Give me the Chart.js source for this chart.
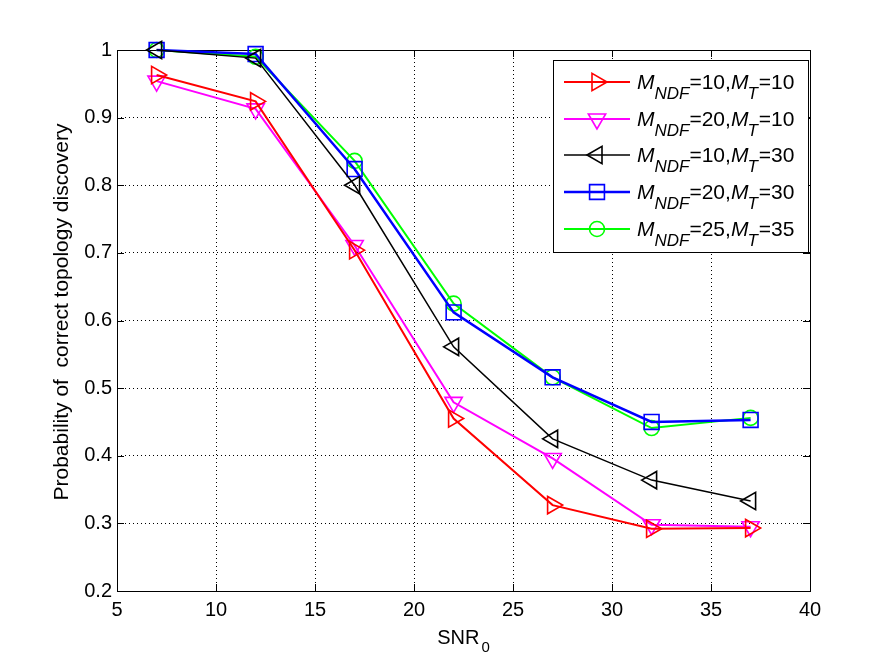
<!DOCTYPE html>
<html>
<head>
<meta charset="utf-8">
<script src="https://cdn.jsdelivr.net/npm/chart.js@4/dist/chart.umd.min.js"></script>
<style>
  html, body { margin: 0; padding: 0; background: #fff; }
  #wrap { width: 896px; height: 664px; }
</style>
</head>
<body>
<div id="wrap"><canvas id="chart" width="896" height="664"></canvas></div>
<script>
// SNR_0 values along the x axis
const snr = [7, 12, 17, 22, 27, 32, 37];

// probability of correct topology discovery, one list per curve
const ndf10t10 = [0.963, 0.924, 0.704, 0.455, 0.327, 0.292, 0.293];
const ndf20t10 = [0.954, 0.913, 0.711, 0.479, 0.396, 0.298, 0.295];
const ndf10t30 = [1.0, 0.988, 0.800, 0.561, 0.425, 0.364, 0.333];
const ndf20t30 = [1.0, 0.994, 0.824, 0.612, 0.516, 0.450, 0.453];
const ndf25t35 = [1.0, 0.990, 0.836, 0.625, 0.516, 0.441, 0.456];

// legend parts: [M subscript value, T subscript value]
const legendNdf = ['10', '20', '10', '20', '25'];
const legendT = ['10', '10', '30', '30', '35'];

const xTicks = [5, 10, 15, 20, 25, 30, 35, 40];
const yTicks = [0.2, 0.3, 0.4, 0.5, 0.6, 0.7, 0.8, 0.9, 1];

const FONT = '"Liberation Sans", Arial, Helvetica, sans-serif';

function series(values, color, style, rot, radius, width) {
  return {
    data: snr.map((x, i) => ({ x: x, y: values[i] })),
    borderColor: color,
    borderWidth: width,
    pointStyle: style,
    rotation: rot,
    pointRadius: radius,
    pointHoverRadius: radius,
    pointBorderColor: color,
    pointBorderWidth: 1.6,
    pointBackgroundColor: 'rgba(0,0,0,0)',
    tension: 0,
    clip: false
  };
}

const datasets = [
  series(ndf10t10, '#ff0000', 'triangle', 90, 10, 2),
  series(ndf20t10, '#ff00ff', 'triangle', 180, 10, 2),
  series(ndf10t30, '#000000', 'triangle', 270, 10, 1.5),
  series(ndf20t30, '#0000ff', 'rect', 0, 10.5, 2.5),
  series(ndf25t35, '#00ff00', 'circle', 0, 7.5, 2)
];

// Box, inward ticks, axis titles and the legend (drawn by hand for the subscripts)
const decorations = {
  id: 'decorations',
  beforeDatasetsDraw(chart) {
    const ctx = chart.ctx;
    const a = chart.chartArea;
    const xs = chart.scales.x, ys = chart.scales.y;
    ctx.save();
    ctx.strokeStyle = '#000';
    ctx.lineWidth = 1;
    ctx.setLineDash([]);
    ctx.strokeRect(a.left + 0.5, a.top + 0.5, a.right - a.left, a.bottom - a.top);
    const tl = 7;
    ctx.beginPath();
    xTicks.forEach(v => {
      const px = Math.round(xs.getPixelForValue(v)) + 0.5;
      ctx.moveTo(px, a.bottom); ctx.lineTo(px, a.bottom - tl);
      ctx.moveTo(px, a.top); ctx.lineTo(px, a.top + tl);
    });
    yTicks.forEach(v => {
      const py = Math.round(ys.getPixelForValue(v)) + 0.5;
      ctx.moveTo(a.left, py); ctx.lineTo(a.left + tl, py);
      ctx.moveTo(a.right, py); ctx.lineTo(a.right - tl, py);
    });
    ctx.stroke();
    ctx.restore();
  },
  afterDraw(chart) {
    const ctx = chart.ctx;
    const a = chart.chartArea;
    ctx.save();

    // axis titles
    ctx.fillStyle = '#000';
    ctx.textBaseline = 'alphabetic';
    ctx.textAlign = 'left';
    ctx.font = '20px ' + FONT;
    const snrW = ctx.measureText('SNR').width;
    ctx.font = '15px ' + FONT;
    const subW = ctx.measureText('0').width;
    const cx = (a.left + a.right) / 2;
    const sx = cx - (snrW + subW + 2) / 2;
    ctx.font = '20px ' + FONT;
    ctx.fillText('SNR', sx, 644);
    ctx.font = '15px ' + FONT;
    ctx.fillText('0', sx + snrW + 2, 652);

    ctx.save();
    ctx.translate(68, 312);
    ctx.rotate(-Math.PI / 2);
    ctx.font = '21px ' + FONT;
    ctx.textAlign = 'center';
    ctx.fillText('Probability of  correct topology discovery', 0, 0);
    ctx.restore();

    // legend
    const lx = 553, ly = 60, lw = 255, lh = 192;
    ctx.fillStyle = '#fff';
    ctx.fillRect(lx, ly, lw, lh);
    ctx.strokeStyle = '#000';
    ctx.lineWidth = 1;
    ctx.strokeRect(lx + 0.5, ly + 0.5, lw, lh);

    const rowY = [82, 119, 155, 192, 229];
    datasets.forEach((ds, i) => {
      const y = rowY[i];
      ctx.strokeStyle = ds.borderColor;
      ctx.lineWidth = ds.borderWidth;
      ctx.beginPath();
      ctx.moveTo(564, y); ctx.lineTo(630, y);
      ctx.stroke();
      ctx.lineWidth = ds.pointBorderWidth;
      ctx.fillStyle = 'rgba(0,0,0,0)';
      Chart.helpers.drawPoint(ctx, {
        pointStyle: ds.pointStyle,
        rotation: ds.rotation,
        radius: ds.pointRadius,
        borderWidth: ds.pointBorderWidth
      }, 597, y);

      // text: M_NDF=xx,M_T=yy
      ctx.fillStyle = '#000';
      const base = y + 7;
      let x = 637;
      const big = '21px ' + FONT, bigI = 'italic 21px ' + FONT, subI = 'italic 17px ' + FONT;
      const put = (t, f, dy) => {
        ctx.font = f;
        ctx.fillText(t, x, base + dy);
        x += ctx.measureText(t).width;
      };
      put('M', bigI, 0);
      put('NDF', subI, 10);
      put('=' + legendNdf[i] + ',', big, 0);
      put('M', bigI, 0);
      x -= 1;
      put('T', subI, 10);
      x += 1;
      put('=' + legendT[i], big, 0);
    });
    ctx.restore();
  }
};

new Chart(document.getElementById('chart'), {
  type: 'line',
  data: { datasets: datasets },
  options: {
    responsive: false,
    animation: false,
    devicePixelRatio: 1,
    layout: { padding: { left: 0, top: 50, right: 86, bottom: 0 } },
    plugins: { legend: { display: false }, tooltip: { enabled: false } },
    scales: {
      x: {
        type: 'linear',
        min: 5,
        max: 40,
        afterFit(scale) { scale.height = 664 - 591; },
        afterBuildTicks(scale) { scale.ticks = xTicks.map(v => ({ value: v })); },
        ticks: {
          color: '#000',
          padding: 7,
          font: { family: FONT, size: 20 },
          maxRotation: 0
        },
        grid: { color: '#000', lineWidth: 1, drawTicks: false },
        border: { display: false, dash: [1, 3] }
      },
      y: {
        min: 0.2,
        max: 1,
        afterFit(scale) { scale.width = 117; },
        afterBuildTicks(scale) { scale.ticks = yTicks.map(v => ({ value: v })); },
        ticks: {
          color: '#000',
          padding: 5,
          font: { family: FONT, size: 20 },
          callback: v => String(Math.round(v * 10) / 10)
        },
        grid: { color: '#000', lineWidth: 1, drawTicks: false },
        border: { display: false, dash: [1, 3] }
      }
    }
  },
  plugins: [decorations]
});
</script>
</body>
</html>
